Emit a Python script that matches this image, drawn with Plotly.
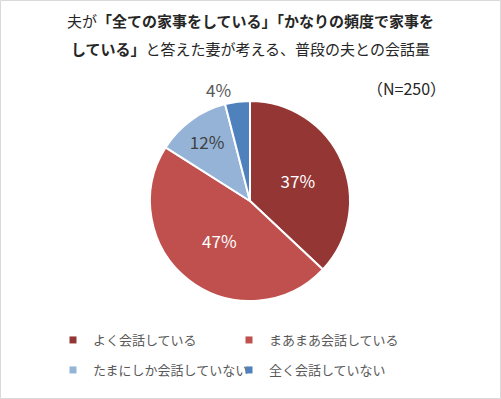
import plotly.graph_objects as go

categories = ["よく会話している", "まあまあ会話している", "たまにしか会話していない", "全く会話していない"]
values = [37, 47, 12, 4]
colors = ["#943634", "#C0504D", "#95B3D7", "#4F81BD"]
inside_text_colors = ["#FFFFFF", "#FFFFFF", "#404040", "#404040"]
text_positions = ["inside", "inside", "inside", "outside"]
legend_rows = ["legend", "legend", "legend2", "legend2"]

title_line1 = "夫が<b>「全ての家事をしている」「かなりの頻度で家事を</b>"
title_line2 = "<b>している」</b>と答えた妻が考える、普段の夫との会話量"
n_label = "（N=250）"

W, H = 501, 399
FONT = "Noto Sans CJK JP, Meiryo, sans-serif"

fig = go.Figure()
fig.add_trace(go.Pie(
    labels=categories, values=values, sort=False, direction="clockwise", rotation=0,
    marker=dict(colors=colors, line=dict(color="white", width=2)),
    texttemplate="%{percent:.0%}", textposition=text_positions,
    insidetextfont=dict(color=inside_text_colors, size=17, family=FONT),
    outsidetextfont=dict(color="#595959", size=17, family=FONT),
    insidetextorientation="horizontal",
    showlegend=False, hoverinfo="skip",
    domain=dict(x=[150 / W, 350 / W], y=[1 - 301 / H, 1 - 101 / H]),
))

for cat, col, lg in zip(categories, colors, legend_rows):
    fig.add_trace(go.Scatter(
        x=[None], y=[None], mode="markers", name=cat, legend=lg,
        marker=dict(symbol="square", size=7, color=col),
    ))

legend_common = dict(
    orientation="h", xanchor="left", yanchor="middle",
    font=dict(size=13, color="#595959", family=FONT),
    entrywidth=131, entrywidthmode="pixels", bgcolor="rgba(0,0,0,0)",
)

fig.update_layout(
    width=W, height=H,
    margin=dict(l=0, r=0, t=0, b=0),
    paper_bgcolor="white", plot_bgcolor="white",
    xaxis=dict(visible=False), yaxis=dict(visible=False),
    legend=dict(x=53 / W, y=1 - 340 / H, **legend_common),
    legend2=dict(x=53 / W, y=1 - 370 / H, **legend_common),
    annotations=[
        dict(text=title_line1, x=0.5, y=1 - 21 / H, xref="paper", yref="paper",
             xanchor="center", yanchor="middle",
             showarrow=False, font=dict(size=15, color="#262626", family=FONT)),
        dict(text=title_line2, x=0.5, y=1 - 48 / H, xref="paper", yref="paper",
             xanchor="center", yanchor="middle",
             showarrow=False, font=dict(size=15, color="#262626", family=FONT)),
        dict(text=n_label, x=406 / W, y=1 - 88 / H, xref="paper", yref="paper",
             xanchor="center", yanchor="middle",
             showarrow=False, font=dict(size=16, color="#262626", family=FONT)),
    ],
    shapes=[dict(type="rect", xref="paper", yref="paper",
                 x0=0.5 / W, x1=1 - 0.5 / W, y0=0.5 / H, y1=1 - 0.5 / H,
                 line=dict(color="#D9D9D9", width=1))],
)

fig.write_html("out.html", config={"displayModeBar": False},
               post_script="document.body.style.margin='0';")
